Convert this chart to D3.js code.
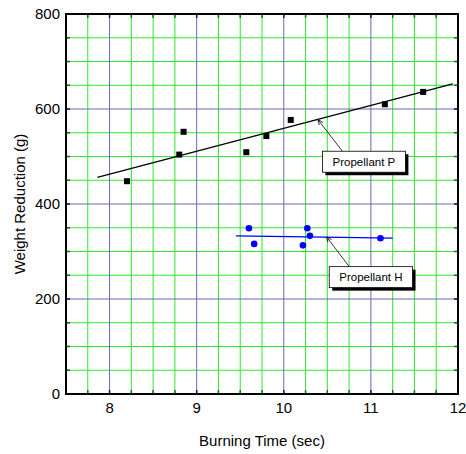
<!DOCTYPE html>
<html>
<head>
<meta charset="utf-8">
<script src="https://cdn.jsdelivr.net/npm/d3@7"></script>
<style>
  body { margin: 0; background: #fff; }
  svg { display: block; font-family: Arial, "Liberation Sans", sans-serif; }
</style>
</head>
<body>
<div id="chart"></div>
<script>
// Propellant P (black squares)
var pTime = [8.20, 8.80, 8.85, 9.57, 9.80, 10.08, 11.16, 11.60];
var pWeight = [448, 504, 552, 509, 543, 577, 610, 636];
// Propellant H (blue circles)
var hTime = [9.60, 9.66, 10.22, 10.27, 10.30, 11.11];
var hWeight = [349, 316, 313, 349, 333, 328];

// fitted lines, [time, weight] end points
var pFit = [[7.86, 456], [11.94, 653]];
var hFit = [[9.45, 333], [11.25, 328]];

var xTicks = [8, 9, 10, 11, 12];
var yTicks = [0, 200, 400, 600, 800];

// annotations: arrow tip, box centre (data units)
var notes = [
  { text: 'Propellant P', tip: [10.39, 578], box: [10.92, 489] },
  { text: 'Propellant H', tip: [10.49, 331], box: [11.00, 246] }
];

var width = 466, height = 454;
var margin = { top: 14, right: 8, bottom: 60, left: 66 };
var w = width - margin.left - margin.right;
var h = height - margin.top - margin.bottom;

var x = d3.scaleLinear().domain([7.5, 12]).range([0, w]);
var y = d3.scaleLinear().domain([0, 800]).range([h, 0]);

var svg = d3.select('#chart').append('svg')
  .attr('width', width)
  .attr('height', height);

svg.append('defs').append('marker')
  .attr('id', 'arrow')
  .attr('viewBox', '0 0 10 10')
  .attr('refX', 10)
  .attr('refY', 5)
  .attr('markerWidth', 7)
  .attr('markerHeight', 7)
  .attr('orient', 'auto')
  .append('path')
  .attr('d', 'M0,1 L10,5 L0,9')
  .attr('fill', 'none')
  .attr('stroke', '#000')
  .attr('stroke-width', 1.3);

var g = svg.append('g')
  .attr('transform', 'translate(' + margin.left + ',' + margin.top + ')');

// minor grid
var xMinor = d3.range(7.75, 12, 0.25).filter(d => Math.abs(d - Math.round(d)) > 0.01);
var yMinor = d3.range(50, 800, 50).filter(d => d % 200 != 0);

g.selectAll('.gx').data(xMinor).enter().append('line')
  .attr('x1', d => x(d)).attr('x2', d => x(d))
  .attr('y1', 0).attr('y2', h)
  .attr('stroke', '#2de82d').attr('stroke-width', 1);

g.selectAll('.gy').data(yMinor).enter().append('line')
  .attr('x1', 0).attr('x2', w)
  .attr('y1', d => y(d)).attr('y2', d => y(d))
  .attr('stroke', '#2de82d').attr('stroke-width', 1);

// major grid
g.selectAll('.mx').data(xTicks.filter(d => d < 12)).enter().append('line')
  .attr('x1', d => x(d)).attr('x2', d => x(d))
  .attr('y1', 0).attr('y2', h)
  .attr('stroke', '#6b6bb3').attr('stroke-width', 1);

g.selectAll('.my').data(yTicks.filter(d => d > 0 && d < 800)).enter().append('line')
  .attr('x1', 0).attr('x2', w)
  .attr('y1', d => y(d)).attr('y2', d => y(d))
  .attr('stroke', '#6b6bb3').attr('stroke-width', 1);

// inward ticks on all four sides
var tickLen = 4;
var allX = xMinor.concat(xTicks.filter(d => d < 12));
var allY = yMinor.concat(yTicks.filter(d => d > 0 && d < 800));
g.selectAll('.tb').data(allX).enter().append('line')
  .attr('x1', d => x(d)).attr('x2', d => x(d))
  .attr('y1', h).attr('y2', h - tickLen)
  .attr('stroke', d => d % 1 == 0 ? '#101060' : '#107010').attr('stroke-width', 1.5);
g.selectAll('.tt').data(allX).enter().append('line')
  .attr('x1', d => x(d)).attr('x2', d => x(d))
  .attr('y1', 0).attr('y2', tickLen)
  .attr('stroke', d => d % 1 == 0 ? '#101060' : '#107010').attr('stroke-width', 1.5);
g.selectAll('.tl').data(allY).enter().append('line')
  .attr('x1', 0).attr('x2', tickLen)
  .attr('y1', d => y(d)).attr('y2', d => y(d))
  .attr('stroke', d => d % 200 == 0 ? '#101060' : '#107010').attr('stroke-width', 1.5);
g.selectAll('.tr').data(allY).enter().append('line')
  .attr('x1', w).attr('x2', w - tickLen)
  .attr('y1', d => y(d)).attr('y2', d => y(d))
  .attr('stroke', d => d % 200 == 0 ? '#101060' : '#107010').attr('stroke-width', 1.5);

// frame
g.append('rect')
  .attr('x', 0).attr('y', 0)
  .attr('width', w).attr('height', h)
  .attr('fill', 'none')
  .attr('stroke', '#000')
  .attr('stroke-width', 2);

// tick labels
g.selectAll('.xl').data(xTicks).enter().append('text')
  .attr('x', d => x(d))
  .attr('y', h + 19)
  .attr('text-anchor', 'middle')
  .style('font-size', '15px')
  .text(d => d);

g.selectAll('.yl').data(yTicks).enter().append('text')
  .attr('x', -6)
  .attr('y', d => y(d))
  .attr('dy', '0.36em')
  .attr('text-anchor', 'end')
  .style('font-size', '15px')
  .text(d => d);

// axis titles
g.append('text')
  .attr('x', w / 2)
  .attr('y', h + 52)
  .attr('text-anchor', 'middle')
  .style('font-size', '15px')
  .text('Burning Time (sec)');

g.append('text')
  .attr('transform', 'translate(' + (-41) + ',' + (h / 2) + ') rotate(-90)')
  .attr('text-anchor', 'middle')
  .style('font-size', '15px')
  .text('Weight Reduction (g)');

// fit lines
var line = d3.line().x(d => x(d[0])).y(d => y(d[1]));
g.append('path').attr('d', line(pFit))
  .attr('fill', 'none').attr('stroke', '#000').attr('stroke-width', 1.2);
g.append('path').attr('d', line(hFit))
  .attr('fill', 'none').attr('stroke', '#0000ff').attr('stroke-width', 1.2);

// points
var pData = pTime.map((t, i) => [t, pWeight[i]]);
var hData = hTime.map((t, i) => [t, hWeight[i]]);

g.selectAll('.ps').data(pData).enter().append('rect')
  .attr('x', d => x(d[0]) - 3)
  .attr('y', d => y(d[1]) - 3)
  .attr('width', 6).attr('height', 6)
  .attr('fill', '#000');

g.selectAll('.hs').data(hData).enter().append('circle')
  .attr('cx', d => x(d[0]))
  .attr('cy', d => y(d[1]))
  .attr('r', 3.3)
  .attr('fill', '#0000ff');

// annotations
notes.forEach(n => {
  var bx = x(n.box[0]), by = y(n.box[1]);
  var t = g.append('text')
    .attr('x', bx).attr('y', by)
    .attr('dy', '0.36em')
    .attr('text-anchor', 'middle')
    .style('font-size', '11.5px')
    .text(n.text);
  var bb = t.node().getBBox();
  var bw = bb.width + 20, bh = 21;
  g.insert('rect', function() { return t.node(); })
    .attr('x', bx - bw / 2 + 3).attr('y', by - bh / 2 + 3)
    .attr('width', bw).attr('height', bh)
    .attr('fill', '#000');
  g.insert('rect', function() { return t.node(); })
    .attr('x', bx - bw / 2).attr('y', by - bh / 2)
    .attr('width', bw).attr('height', bh)
    .attr('fill', '#fff')
    .attr('stroke', '#000')
    .attr('stroke-width', 0.8);
  g.append('line')
    .attr('x1', bx - bw / 2 + 20).attr('y1', by - bh / 2)
    .attr('x2', x(n.tip[0])).attr('y2', y(n.tip[1]))
    .attr('stroke', '#000')
    .attr('stroke-width', 0.8)
    .attr('marker-end', 'url(#arrow)');
});
</script>
</body>
</html>
